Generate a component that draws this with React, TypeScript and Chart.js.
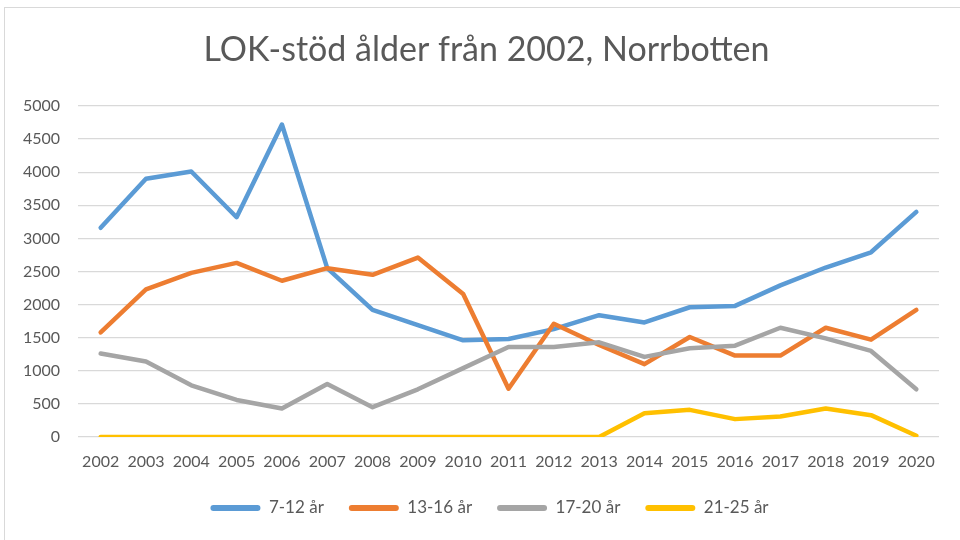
import React, { useEffect, useRef } from "react";
import { Chart, registerables } from "chart.js";

Chart.register(...registerables);

const years = ["2002", "2003", "2004", "2005", "2006", "2007", "2008", "2009", "2010", "2011", "2012", "2013", "2014", "2015", "2016", "2017", "2018", "2019", "2020"];
const age7to12 = [3160, 3900, 4010, 3320, 4720, 2550, 1920, 1690, 1460, 1480, 1630, 1840, 1730, 1960, 1980, 2290, 2560, 2790, 3400];
const age13to16 = [1580, 2230, 2480, 2630, 2360, 2550, 2450, 2710, 2160, 730, 1710, 1390, 1100, 1510, 1230, 1230, 1650, 1470, 1920];
const age17to20 = [1260, 1140, 780, 560, 430, 800, 450, 720, 1040, 1360, 1360, 1430, 1210, 1340, 1380, 1650, 1490, 1300, 720];
const age21to25 = [0, 0, 0, 0, 0, 0, 0, 0, 0, 0, 0, 0, 360, 410, 270, 310, 430, 330, 20];
const seriesNames = ["7-12 år", "13-16 år", "17-20 år", "21-25 år"];
const seriesColors = ["#5B9BD5", "#ED7D31", "#A5A5A5", "#FFC000"];
const titleText = "LOK-stöd ålder från 2002, Norrbotten";

const FONT = "Lato, 'Open Sans', sans-serif";
const TEXT = "#595959";

const boxShift = {
  id: "boxShift",
  afterLayout(chart: any) {
    if (chart.legend) {
      chart.legend.left += 20;
      chart.legend.right += 20;
    }
    if (chart.titleBlock) {
      chart.titleBlock.left += 17;
      chart.titleBlock.right += 17;
    }
  },
};

export default function App() {
  const ref = useRef<HTMLCanvasElement | null>(null);

  useEffect(() => {
    if (!ref.current) return;
    const values = [age7to12, age13to16, age17to20, age21to25];
    const chart = new Chart(ref.current, {
      type: "line",
      data: {
        labels: years,
        datasets: values.map((v, i) => ({
          label: seriesNames[i],
          data: v,
          borderColor: seriesColors[i],
          backgroundColor: seriesColors[i],
          borderWidth: 4.5,
          pointRadius: 0,
          pointHoverRadius: 0,
          tension: 0,
          borderCapStyle: "round" as const,
          borderJoinStyle: "round" as const,
          fill: false,
          order: values.length - 1 - i,
        })),
      },
      plugins: [boxShift],
      options: {
        animation: false,
        responsive: false,
        maintainAspectRatio: false,
        layout: { padding: { left: 0, right: 21, top: 0, bottom: 13.5 } },
        plugins: {
          tooltip: { enabled: false },
          title: {
            display: true,
            text: titleText,
            color: TEXT,
            font: { family: FONT, size: 34, weight: "normal" },
            padding: { top: 30, bottom: 35.2 },
          },
          legend: {
            display: true,
            position: "bottom",
            labels: {
              boxWidth: 50,
              boxHeight: 6,
              padding: 25,
              color: TEXT,
              font: { family: FONT, size: 17 },
              generateLabels: () =>
                seriesNames.map((name, i) => ({
                  text: name,
                  fillStyle: seriesColors[i],
                  strokeStyle: seriesColors[i],
                  lineWidth: 0,
                  hidden: false,
                  datasetIndex: i,
                  fontColor: TEXT,
                  borderRadius: 3,
                })),
              useBorderRadius: true,
              borderRadius: 3,
            },
          },
        },
        scales: {
          x: {
            offset: true,
            grid: { display: false, drawTicks: false },
            border: { display: false },
            ticks: {
              color: TEXT,
              font: { family: FONT, size: 16 },
              padding: 15,
              maxRotation: 0,
              autoSkip: false,
            },
            afterFit: (s: any) => {
              s.height = 37.5;
            },
          },
          y: {
            min: 0,
            max: 5000,
            grid: { color: "#D9D9D9", lineWidth: 1.3, drawTicks: false },
            border: { display: false },
            ticks: {
              stepSize: 500,
              color: TEXT,
              font: { family: FONT, size: 16 },
              padding: 18,
              callback: (v: any) => String(v),
            },
            afterFit: (s: any) => {
              s.width = 78;
            },
          },
        },
      },
    } as any);
    return () => chart.destroy();
  }, []);

  return (
    <div style={{ position: "fixed", left: 0, top: 0, width: 960, height: 540, background: "#fff", overflow: "hidden" }}>
      <canvas ref={ref} width={960} height={540} style={{ position: "absolute", left: 0, top: 0, width: 960, height: 540 }} />
      <div
        style={{
          position: "absolute",
          left: 4,
          top: 7,
          width: 980,
          height: 560,
          border: "1.5px solid #D9D9D9",
          boxSizing: "border-box",
          pointerEvents: "none",
        }}
      />
    </div>
  );
}
